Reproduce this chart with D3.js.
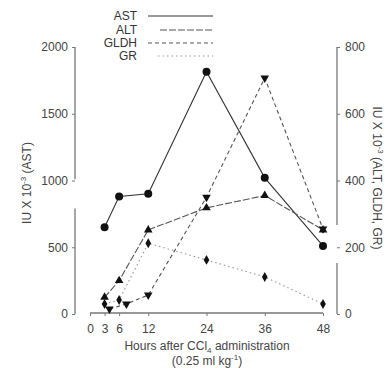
<!doctype html>
<html>
<head>
<meta charset="utf-8">
<script src="https://cdn.jsdelivr.net/npm/d3@7"></script>
<style>
  body { margin: 0; background: #fff; }
  svg { font-family: "Liberation Sans", Arial, sans-serif; }
  .tick text { font-size: 12px; fill: #444; }
  .tick line { stroke: #777; }
</style>
</head>
<body>
<svg id="chart" width="390" height="368"></svg>
<script>
  // values
  var hours = [3, 6, 12, 24, 36, 48];
  var ast = [650, 880, 900, 1815, 1020, 510];
  var alt = [50, 100, 252, 318, 355, 252];
  var gldhHours = [4, 7.5, 12, 24, 36, 48];
  var gldh = [15, 30, 57, 350, 707, 255];
  var gr = [30, 42, 212, 162, 111, 30];

  var xTicks = [0, 3, 6, 12, 24, 36, 48];
  var leftTicks = [0, 500, 1000, 1500, 2000];
  var rightTicks = [0, 200, 400, 600, 800];
  var legendNames = ['AST', 'ALT', 'GLDH', 'GR'];

  var svg = d3.select('#chart');

  var x = d3.scaleLinear().domain([0, 48]).range([90, 323]);
  var yL = d3.scaleLinear().domain([0, 2000]).range([314, 47]);
  var yR = d3.scaleLinear().domain([0, 800]).range([314, 47]);

  var axisColor = '#777';

  // left axis (broken between ~790 and ~1010)
  var gl = svg.append('g').attr('transform', 'translate(75,0)')
    .call(d3.axisLeft(yL).tickValues(leftTicks).tickFormat(d3.format('d')).tickSize(3).tickPadding(4));
  gl.select('.domain').remove();
  [[0, 790], [1010, 2000]].forEach(function (s) {
    gl.append('line').attr('x1', 0).attr('x2', 0)
      .attr('y1', yL(s[0])).attr('y2', yL(s[1]))
      .attr('stroke', axisColor).attr('stroke-width', 1.3);
  });

  // right axis (broken between ~153 and ~267)
  var gr2 = svg.append('g').attr('transform', 'translate(337,0)')
    .call(d3.axisRight(yR).tickValues(rightTicks).tickFormat(d3.format('d')).tickSize(3).tickPadding(5));
  gr2.select('.domain').remove();
  [[0, 153], [267, 800]].forEach(function (s) {
    gr2.append('line').attr('x1', 0).attr('x2', 0)
      .attr('y1', yR(s[0])).attr('y2', yR(s[1]))
      .attr('stroke', axisColor).attr('stroke-width', 1.3);
  });

  // bottom axis
  var gx = svg.append('g').attr('transform', 'translate(0,313)')
    .call(d3.axisBottom(x).tickValues(xTicks).tickSize(3).tickPadding(8));
  gx.select('.domain').attr('stroke', axisColor).attr('stroke-width', 1.3)
    .attr('d', 'M' + x(0) + ',0H' + x(48));

  // axis titles
  svg.append('text')
    .attr('transform', 'translate(31,183) rotate(-90)')
    .attr('text-anchor', 'middle').attr('font-size', 12).attr('fill', '#444')
    .html('IU X 10<tspan dy="-5" font-size="8">-3</tspan><tspan dy="5"> (AST)</tspan>');

  svg.append('text')
    .attr('transform', 'translate(373,178) rotate(90)')
    .attr('text-anchor', 'middle').attr('font-size', 12).attr('fill', '#444')
    .html('IU X 10<tspan dy="-5" font-size="8">-3</tspan><tspan dy="5"> (ALT, GLDH, GR)</tspan>');

  svg.append('text')
    .attr('x', 207).attr('y', 350)
    .attr('text-anchor', 'middle').attr('font-size', 12).attr('fill', '#444')
    .html('Hours after CCl<tspan dy="3" font-size="8">4</tspan><tspan dy="-3"> administration</tspan>');
  svg.append('text')
    .attr('x', 207).attr('y', 365)
    .attr('text-anchor', 'middle').attr('font-size', 12).attr('fill', '#444')
    .html('(0.25 ml kg<tspan dy="-5" font-size="8">-1</tspan><tspan dy="5">)</tspan>');

  // series
  var series = [
    { name: 'AST', xs: hours, ys: ast, y: yL, dash: null, color: '#333', marker: 'circle' },
    { name: 'ALT', xs: hours, ys: alt, y: yR, dash: '7,2', color: '#555', marker: 'up' },
    { name: 'GLDH', xs: gldhHours, ys: gldh, y: yR, dash: '4,3', color: '#555', marker: 'down' },
    { name: 'GR', xs: hours, ys: gr, y: yR, dash: '1.5,3', color: '#999', marker: 'diamond' }
  ];

  var tri = d3.symbol().type(d3.symbolTriangle).size(32);
  var dia = d3.symbol().type(d3.symbolDiamond).size(28);

  series.forEach(function (s) {
    var pts = s.xs.map(function (h, i) { return [x(h), s.y(s.ys[i])]; });
    svg.append('path')
      .attr('d', d3.line()(pts))
      .attr('fill', 'none')
      .attr('stroke', s.color)
      .attr('stroke-width', 1.1)
      .attr('stroke-dasharray', s.dash);
  });

  series.forEach(function (s) {
    var g = svg.append('g');
    s.xs.forEach(function (h, i) {
      var cx = x(h), cy = s.y(s.ys[i]);
      if (s.marker === 'circle') {
        g.append('circle').attr('cx', cx).attr('cy', cy).attr('r', 4).attr('fill', '#111');
      } else if (s.marker === 'diamond') {
        g.append('path').attr('d', dia()).attr('transform', 'translate(' + cx + ',' + cy + ')').attr('fill', '#111');
      } else {
        var rot = s.marker === 'down' ? ' rotate(180)' : '';
        g.append('path').attr('d', tri()).attr('transform', 'translate(' + cx + ',' + cy + ')' + rot).attr('fill', '#111');
      }
    });
  });

  // legend
  var legY = [16, 30, 43, 56];
  var legStart = [148, 160, 148, 158];
  var leg = svg.append('g');
  legendNames.forEach(function (n, i) {
    var s = series[i];
    leg.append('text').attr('x', 137).attr('y', legY[i] + 4)
      .attr('text-anchor', 'end').attr('font-size', 12).attr('fill', '#333').text(n);
    leg.append('line').attr('x1', legStart[i]).attr('x2', 213)
      .attr('y1', legY[i]).attr('y2', legY[i])
      .attr('stroke', s.color).attr('stroke-width', 1.1)
      .attr('stroke-dasharray', s.dash);
  });
</script>
</body>
</html>
